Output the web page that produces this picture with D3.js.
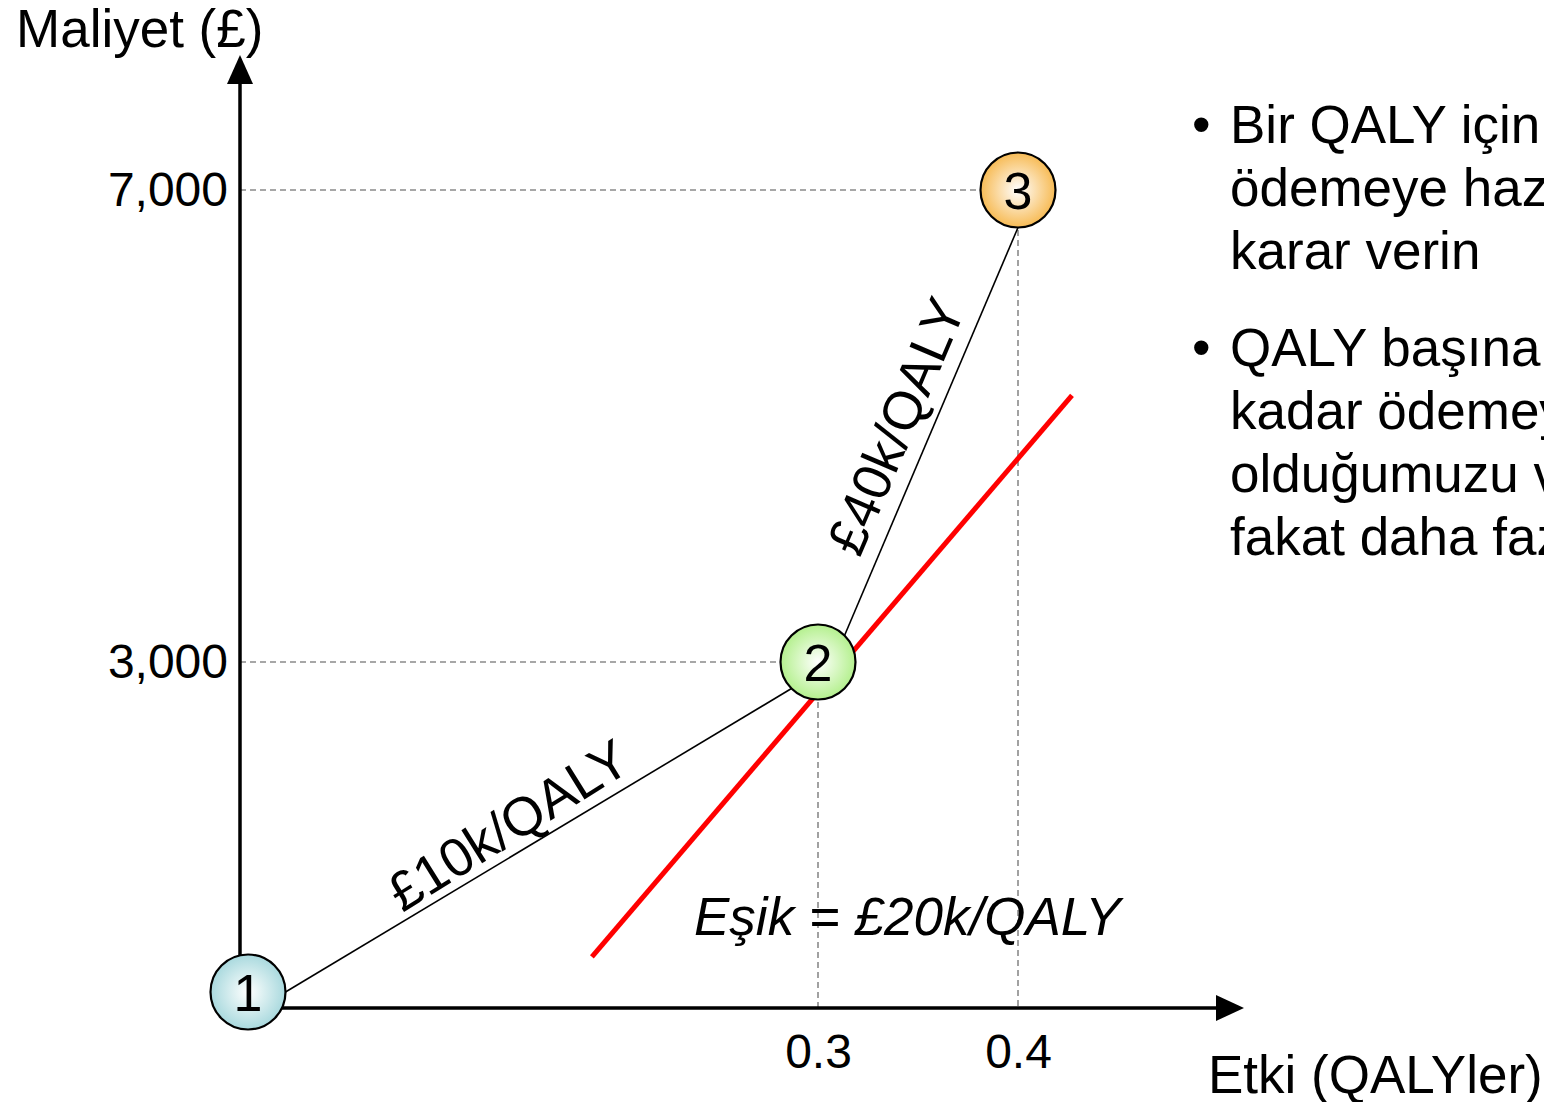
<!DOCTYPE html>
<html>
<head>
<meta charset="utf-8">
<script src="https://cdn.jsdelivr.net/npm/d3@7"></script>
<style>
  html, body { margin: 0; padding: 0; background: #fff; overflow: hidden; }
  svg { display: block; font-family: "Liberation Sans", Arial, sans-serif; }
</style>
</head>
<body>
<svg id="chart" width="1544" height="1102"></svg>
<script>
// Options: effect (QALYs) and cost (£)
const optionIds = ["1", "2", "3"];
const effects = [0, 0.3, 0.4];
const costs = [0, 3000, 7000];
const fillColors = ["#a9d9de", "#b4f08e", "#f7bb55"];

// Incremental cost-effectiveness ratio labels between successive options
const segmentLabels = ["£10k/QALY", "£40k/QALY"];

// Willingness-to-pay threshold line end points (effect, cost)
const thresholdEffects = [0.181, 0.427];
const thresholdCosts = [320, 5260];
const thresholdLabel = "Eşik = £20k/QALY";

// Tick values
const xTicks = [0.3, 0.4];
const yTicks = [3000, 7000];

// Axis titles and side notes
const yTitle = "Maliyet (£)";
const xTitle = "Etki (QALYler)";
const bullets = [
  ["Bir QALY için ne kadar", "ödemeye hazır olduğunuza", "karar verin"],
  ["QALY başına £20k'ya", "kadar ödemeye hazır", "olduğumuzu varsayalım,", "fakat daha fazlasını değil"]
];

const svg = d3.select("#chart");

const x = d3.scaleLinear().domain([0, 0.3, 0.4]).range([248, 818, 1018]);
const y = d3.scaleLinear().domain([0, 3000, 7000]).range([992, 662, 190]);

const axisX0 = 240, axisY0 = 1008;
const R = 37.5;

// Gradients for the option markers
const defs = svg.append("defs");
fillColors.forEach((c, i) => {
  const g = defs.append("radialGradient").attr("id", "grad" + i)
    .attr("cx", "50%").attr("cy", "50%").attr("r", "50%");
  g.append("stop").attr("offset", "0%").attr("stop-color", "#ffffff");
  g.append("stop").attr("offset", "35%").attr("stop-color", d3.interpolateRgb("#ffffff", c)(0.35));
  g.append("stop").attr("offset", "100%").attr("stop-color", c);
});

const pts = effects.map((e, i) => ({ id: optionIds[i], e, c: costs[i], px: x(e), py: y(costs[i]) }));

// Dashed reference lines
const grid = svg.append("g").attr("stroke", "#8a8a8a").attr("stroke-width", 1.6)
  .attr("stroke-dasharray", "6,4").attr("fill", "none");
yTicks.forEach(v => {
  const p = pts.find(d => d.c === v);
  grid.append("line").attr("x1", axisX0).attr("x2", p.px).attr("y1", y(v)).attr("y2", y(v));
});
xTicks.forEach(v => {
  const p = pts.find(d => d.e === v);
  grid.append("line").attr("x1", x(v)).attr("x2", x(v)).attr("y1", p.py).attr("y2", axisY0);
});

// Axes with arrow heads
const ax = svg.append("g");
ax.append("line").attr("x1", axisX0).attr("y1", axisY0 + 1).attr("x2", axisX0).attr("y2", 80)
  .attr("stroke", "#000").attr("stroke-width", 3.5);
ax.append("path").attr("d", `M${axisX0},55 L${axisX0 - 13},84 L${axisX0 + 13},84 Z`).attr("fill", "#000");
ax.append("line").attr("x1", axisX0 - 1).attr("y1", axisY0).attr("x2", 1220).attr("y2", axisY0)
  .attr("stroke", "#000").attr("stroke-width", 3.5);
ax.append("path").attr("d", `M1244,${axisY0} L1216,${axisY0 - 13} L1216,${axisY0 + 13} Z`).attr("fill", "#000");

// Tick labels
const yAxis = svg.append("g").attr("transform", `translate(${axisX0 - 8},0)`)
  .call(d3.axisLeft(y).tickValues(yTicks).tickSize(0).tickPadding(4).tickFormat(d3.format(",")));
yAxis.select(".domain").remove();
yAxis.selectAll("text").attr("font-size", 48).attr("font-family", "Liberation Sans, Arial, sans-serif").attr("fill", "#000");

const xAxis = svg.append("g").attr("transform", `translate(0,${axisY0})`)
  .call(d3.axisBottom(x).tickValues(xTicks).tickSize(0).tickPadding(26).tickFormat(d3.format(".1f")));
xAxis.select(".domain").remove();
xAxis.selectAll("text").attr("font-size", 48).attr("font-family", "Liberation Sans, Arial, sans-serif").attr("fill", "#000");

// Threshold line
svg.append("line")
  .attr("x1", x(thresholdEffects[0])).attr("y1", y(thresholdCosts[0]))
  .attr("x2", x(thresholdEffects[1])).attr("y2", y(thresholdCosts[1]))
  .attr("stroke", "#ff0000").attr("stroke-width", 5);
svg.append("text").attr("x", 694).attr("y", 935)
  .attr("font-size", 53).attr("font-style", "italic").text(thresholdLabel);

// Connectors joining the options, attached at the marker's connection sites
// (angles in degrees, screen coordinates)
const connectorSites = [[0, 135], [-45, 90]];
const labelT = [0.47, 0.48];
const labelLift = [10, 16];
const labelTilt = [-1, 0];
const site = (p, deg) => [p.px + R * Math.cos(deg * Math.PI / 180), p.py + R * Math.sin(deg * Math.PI / 180)];
const segs = svg.append("g");
for (let i = 0; i < pts.length - 1; i++) {
  const [x1, y1] = site(pts[i], connectorSites[i][0]);
  const [x2, y2] = site(pts[i + 1], connectorSites[i][1]);
  segs.append("line").attr("x1", x1).attr("y1", y1).attr("x2", x2).attr("y2", y2)
    .attr("stroke", "#000").attr("stroke-width", 1.6);
  const ang = Math.atan2(y2 - y1, x2 - x1) * 180 / Math.PI + labelTilt[i];
  const t = labelT[i];
  const mx = x1 + (x2 - x1) * t, my = y1 + (y2 - y1) * t;
  segs.append("text")
    .attr("transform", `translate(${mx},${my}) rotate(${ang})`)
    .attr("x", 0).attr("y", -labelLift[i])
    .attr("text-anchor", "middle").attr("font-size", 54)
    .text(segmentLabels[i]);
}

// Option markers
const nodes = svg.append("g").selectAll("g").data(pts).join("g")
  .attr("transform", d => `translate(${d.px},${d.py})`);
nodes.append("circle").attr("r", R)
  .attr("fill", (d, i) => `url(#grad${i})`).attr("stroke", "#000").attr("stroke-width", 2.2);
nodes.append("text").attr("text-anchor", "middle").attr("dy", "0.36em")
  .attr("font-size", 52).text(d => d.id);

// Axis titles
svg.append("text").attr("x", 16).attr("y", 47).attr("font-size", 53).text(yTitle);
svg.append("text").attr("x", 1208).attr("y", 1093).attr("font-size", 53).text(xTitle);

// Side notes
const notes = svg.append("g").attr("font-size", 53);
const lineH = 63;
let baseY = 143;
bullets.forEach(lines => {
  notes.append("text").attr("x", 1192).attr("y", baseY).text("•");
  lines.forEach((ln, j) => {
    notes.append("text").attr("x", 1230).attr("y", baseY + j * lineH).text(ln);
  });
  baseY += lines.length * lineH + 34;
});
</script>
</body>
</html>
